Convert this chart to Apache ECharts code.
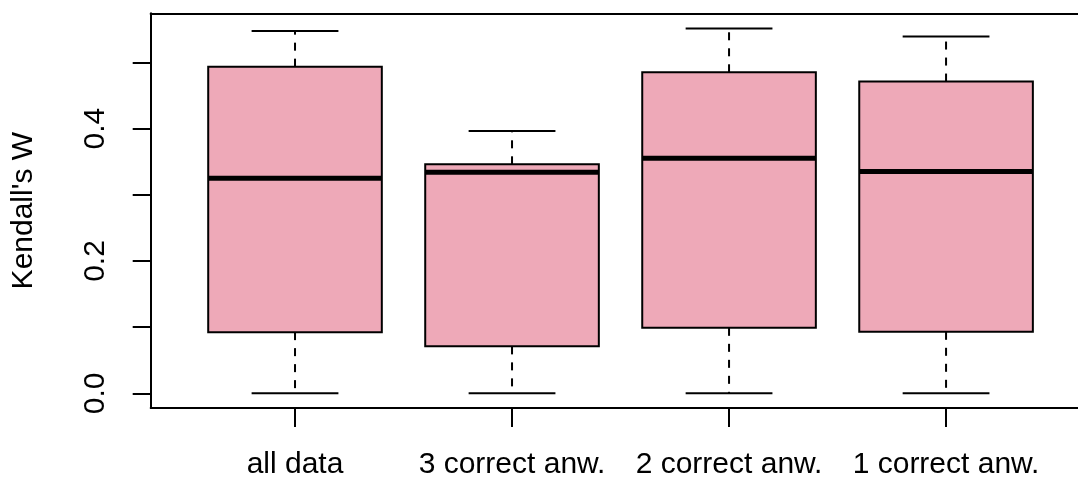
<!DOCTYPE html>
<html>
<head>
<meta charset="utf-8">
<script src="https://cdn.jsdelivr.net/npm/echarts@6/dist/echarts.min.js"></script>
<style>
html,body{margin:0;padding:0;background:#fff;}
#chart{width:1078px;height:480px;}
</style>
</head>
<body>
<div id="chart"></div>
<script>
var categories = ['all data', '3 correct anw.', '2 correct anw.', '1 correct anw.'];
var whiskerLow  = [0, 0, 0, 0];
var q1          = [0.0925, 0.071, 0.099, 0.093];
var median      = [0.325, 0.334, 0.355, 0.335];
var q3          = [0.4935, 0.346, 0.485, 0.471];
var whiskerHigh = [0.5475, 0.3965, 0.551, 0.539];
var yTicks = [0, 0.1, 0.2, 0.3, 0.4, 0.5];
var yLabels = [0, 0.2, 0.4];

var FONT = "'Liberation Sans', Arial, Helvetica, sans-serif";
var FS = 30;

var boxData = categories.map(function (c, i) {
  return [i + 1, whiskerLow[i], q1[i], median[i], q3[i], whiskerHigh[i]];
});

function renderBox(params, api) {
  var x = api.value(0);
  var pLow = api.coord([x, api.value(1)]);
  var pQ1 = api.coord([x, api.value(2)]);
  var pMed = api.coord([x, api.value(3)]);
  var pQ3 = api.coord([x, api.value(4)]);
  var pHigh = api.coord([x, api.value(5)]);
  var bw = api.size([0.8, 0])[0];
  var cw = api.size([0.4, 0])[0];
  var cx = pMed[0];
  var dash = { stroke: '#000', lineWidth: 2, lineDash: [8, 8] };
  var solid = { stroke: '#000', lineWidth: 2 };
  return {
    type: 'group',
    children: [
      { type: 'rect', shape: { x: cx - bw / 2, y: pQ3[1], width: bw, height: pQ1[1] - pQ3[1] },
        style: { fill: '#EEA9B8', stroke: null } },
      { type: 'line', shape: { x1: cx, y1: pQ3[1], x2: cx, y2: pHigh[1] }, style: dash },
      { type: 'line', shape: { x1: cx, y1: pQ1[1], x2: cx, y2: pLow[1] }, style: dash },
      { type: 'line', shape: { x1: cx - cw / 2, y1: pHigh[1], x2: cx + cw / 2, y2: pHigh[1] }, style: solid },
      { type: 'line', shape: { x1: cx - cw / 2, y1: pLow[1], x2: cx + cw / 2, y2: pLow[1] }, style: solid },
      { type: 'line', shape: { x1: cx - bw / 2, y1: pMed[1], x2: cx + bw / 2, y2: pMed[1] },
        style: { stroke: '#000', lineWidth: 5 } },
      { type: 'rect', shape: { x: cx - bw / 2, y: pQ3[1], width: bw, height: pQ1[1] - pQ3[1] },
        style: { fill: null, stroke: '#000', lineWidth: 2 } }
    ]
  };
}

var axisLineStyle = { color: '#000', width: 2 };

var chart = echarts.init(document.getElementById('chart'), null, { renderer: 'canvas' });
chart.setOption({
  animation: false,
  backgroundColor: '#fff',
  textStyle: { fontFamily: FONT },
  grid: {
    left: 150.7, right: 0, top: 13.3, bottom: 71,
    show: false, containLabel: false
  },
  xAxis: [{
    type: 'value', min: 0.335, max: 4.608,
    position: 'bottom',
    splitLine: { show: false },
    axisLine: { show: true, onZero: false, lineStyle: axisLineStyle },
    axisTick: { show: true, length: 19, inside: false, customValues: [1, 2, 3, 4],
      lineStyle: axisLineStyle },
    axisLabel: { show: true, customValues: [1, 2, 3, 4], margin: 42,
      color: '#000', fontSize: FS, fontFamily: FONT,
      formatter: function (v) { return categories[Math.round(v) - 1]; } }
  }, {
    type: 'value', min: 0.335, max: 4.608,
    position: 'top',
    splitLine: { show: false },
    axisLine: { show: true, onZero: false, lineStyle: axisLineStyle },
    axisTick: { show: false },
    axisLabel: { show: false }
  }],
  yAxis: {
    type: 'value', min: -0.0221, max: 0.5741,
    name: "Kendall's W", nameLocation: 'middle', nameRotate: 90, nameGap: 112,
    nameTextStyle: { color: '#000', fontSize: FS, fontFamily: FONT },
    splitLine: { show: false },
    axisLine: { show: true, onZero: false, lineStyle: axisLineStyle },
    axisTick: { show: true, length: 18, inside: false, customValues: yTicks,
      lineStyle: axisLineStyle },
    axisLabel: { show: true, customValues: yLabels, rotate: 90, margin: 40,
      color: '#000', fontSize: FS, fontFamily: FONT,
      formatter: function (v) { return v.toFixed(1); } }
  },
  series: [{
    type: 'custom',
    renderItem: renderBox,
    data: boxData,
    clip: false,
    xAxisIndex: 0,
    encode: { x: 0, y: [1, 2, 3, 4, 5] }
  }]
});
</script>
</body>
</html>
